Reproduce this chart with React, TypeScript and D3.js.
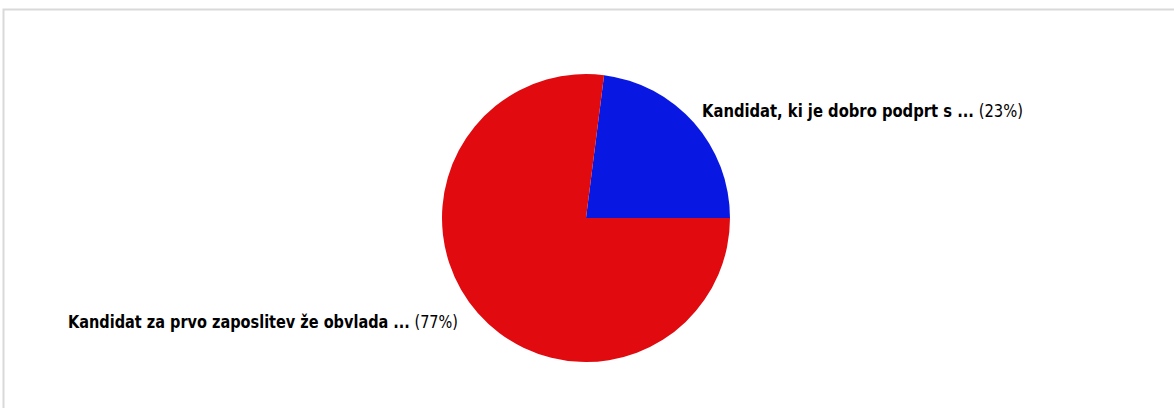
import React from "react";
import * as d3 from "d3";

const categories = [
  "Kandidat, ki je dobro podprt s ...",
  "Kandidat za prvo zaposlitev že obvlada ...",
];
const values = [23, 77];
const percentLabels = ["(23%)", "(77%)"];
const colors = ["#0818e2", "#e00a0f"];

export default function App() {
  const W = 1174, H = 408;
  const cx = 586, cy = 218, r = 144;
  const pie = d3
    .pie<number>()
    .sort(null)
    .startAngle(Math.PI / 2)
    .endAngle(Math.PI / 2 - 2 * Math.PI);
  const arcs = pie(values);
  const arc = d3.arc<d3.PieArcDatum<number>>().innerRadius(0).outerRadius(r);

  const labelPos = [
    { x: 702, y: 117, anchor: "start", len: 321 },
    { x: 458, y: 328, anchor: "end", len: 390 },
  ];

  return (
    <svg
      width={W}
      height={H}
      style={{ position: "absolute", left: 0, top: 0, background: "#fff" }}
    >
      <rect x={0} y={0} width={W} height={H} fill="#fff" />
      <rect
        x={3.5}
        y={9.5}
        width={W + 10}
        height={H + 10}
        fill="none"
        stroke="#d9d9d9"
        strokeWidth={2}
      />
      <g transform={`translate(${cx},${cy})`}>
        {arcs.map((a, i) => (
          <path key={i} d={arc(a) || ""} fill={colors[i]} />
        ))}
      </g>
      {categories.map((c, i) => {
        const p = labelPos[i];
        return (
          <g key={i} transform={`translate(${p.x},${p.y}) scale(1,1.4)`}>
            <text
              x={0}
              y={0}
              textAnchor={p.anchor as any}
              fontFamily="'DejaVu Sans', Verdana, sans-serif"
              fontSize={12}
              fill="#000"
              textLength={p.len}
              lengthAdjust="spacingAndGlyphs"
            >
              <tspan fontWeight="bold">{c}</tspan>
              <tspan> {percentLabels[i]}</tspan>
            </text>
          </g>
        );
      })}
    </svg>
  );
}
